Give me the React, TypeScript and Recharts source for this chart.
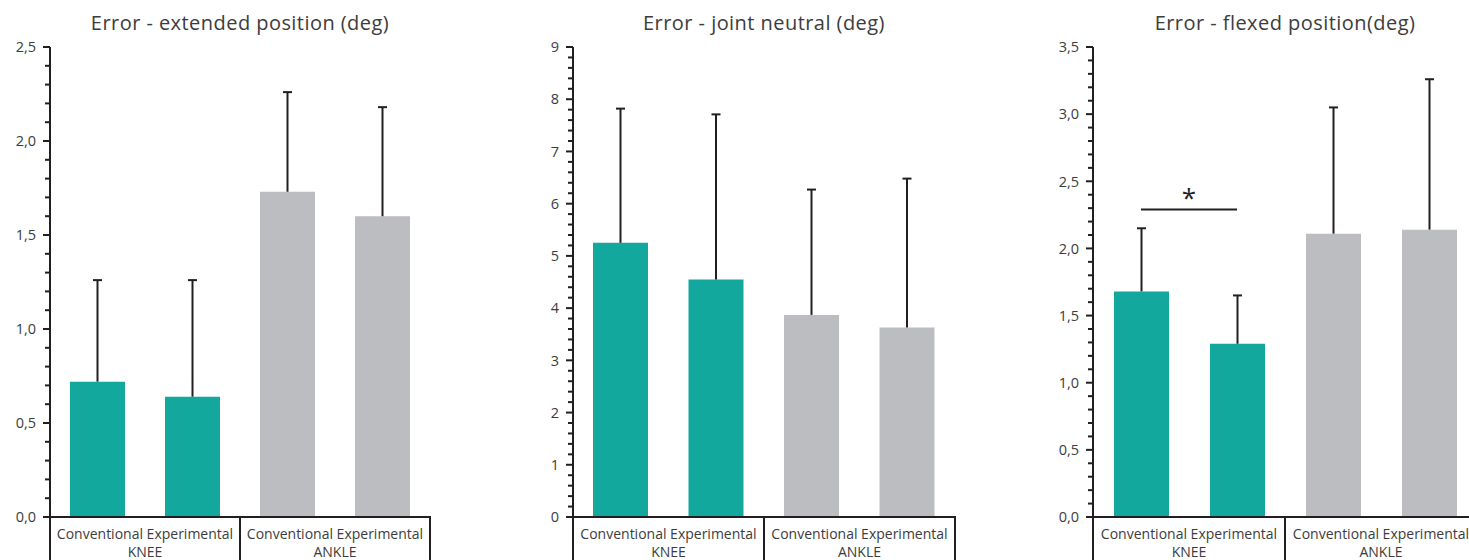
import { BarChart, Bar, XAxis, YAxis, Cell, ReferenceLine, Label } from "recharts"

const TEAL = "#12a89d"
const GREY = "#bcbdc1"
const INK = "#231f20"
const TEXT = "#3c3c3c"
const FONT = "'Open Sans', sans-serif"

const categories = ["Conventional", "Experimental", "Conventional", "Experimental"]
const joints = ["KNEE", "KNEE", "ANKLE", "ANKLE"]

// mean + one-sided SD
const extendedMean = [0.72, 0.64, 1.73, 1.6]
const extendedSd = [0.54, 0.62, 0.53, 0.58]
const neutralMean = [5.25, 4.55, 3.87, 3.63]
const neutralSd = [2.57, 3.16, 2.4, 2.85]
const flexedMean = [1.68, 1.29, 2.11, 2.14]
const flexedSd = [0.47, 0.36, 0.94, 1.12]

const extendedTicks = [
  0, 0.1, 0.2, 0.3, 0.4, 0.5, 0.6, 0.7, 0.8, 0.9, 1, 1.1, 1.2, 1.3, 1.4, 1.5, 1.6, 1.7, 1.8, 1.9, 2, 2.1, 2.2,
  2.3, 2.4, 2.5,
]
const extendedLabels = [0, 0.5, 1, 1.5, 2, 2.5]
const neutralTicks = [
  0, 0.2, 0.4, 0.6, 0.8, 1, 1.2, 1.4, 1.6, 1.8, 2, 2.2, 2.4, 2.6, 2.8, 3, 3.2, 3.4, 3.6, 3.8, 4, 4.2, 4.4, 4.6,
  4.8, 5, 5.2, 5.4, 5.6, 5.8, 6, 6.2, 6.4, 6.6, 6.8, 7, 7.2, 7.4, 7.6, 7.8, 8, 8.2, 8.4, 8.6, 8.8, 9,
]
const neutralLabels = [0, 1, 2, 3, 4, 5, 6, 7, 8, 9]
const flexedTicks = [
  0, 0.1, 0.2, 0.3, 0.4, 0.5, 0.6, 0.7, 0.8, 0.9, 1, 1.1, 1.2, 1.3, 1.4, 1.5, 1.6, 1.7, 1.8, 1.9, 2, 2.1, 2.2,
  2.3, 2.4, 2.5, 2.6, 2.7, 2.8, 2.9, 3, 3.1, 3.2, 3.3, 3.4, 3.5,
]
const flexedLabels = [0, 0.5, 1, 1.5, 2, 2.5, 3, 3.5]

const Y_W = 50
const TOP = 47
const X_H = 43

const commaFmt = (v: number) => v.toFixed(1).replace(".", ",")
const intFmt = (v: number) => String(v)

function makeRows(means: number[], sds: number[]) {
  return categories.map((c, i) => ({
    id: `${joints[i]} ${c}`,
    joint: joints[i],
    mean: means[i],
    sd: sds[i],
  }))
}

function YTick(props: any) {
  const { x, y, payload, labels, fmt } = props
  const major = labels.includes(payload.value)
  return (
    <g>
      <line x1={x - (major ? 7 : 5)} x2={x} y1={y} y2={y} stroke={INK} strokeWidth={2} />
      {major && (
        <text x={x - 14} y={y} dy="0.36em" textAnchor="end" fontSize={14.5} fill={TEXT} fontFamily={FONT}>
          {fmt(payload.value)}
        </text>
      )}
    </g>
  )
}

function XTick(props: any) {
  const { x, y, payload, index, half } = props
  const h = payload && payload.offset ? payload.offset : half
  const first = index % 2 === 0
  return (
    <g>
      {first && (
        <text x={x + h} y={y + 22} textAnchor="middle" fontSize={14} fill={TEXT} fontFamily={FONT}>
          {`${categories[index]} ${categories[index + 1]}`}
        </text>
      )}
      {first && (
        <text x={x + h} y={y + 40} textAnchor="middle" fontSize={14} fill={TEXT} fontFamily={FONT}>
          {joints[index]}
        </text>
      )}
      {first && <line x1={x - h} x2={x - h} y1={y - 1} y2={y + 50} stroke={INK} strokeWidth={2} />}
      {index === categories.length - 1 && (
        <line x1={x + h} x2={x + h} y1={y - 1} y2={y + 50} stroke={INK} strokeWidth={2} />
      )}
    </g>
  )
}

function ErrorShape(props: any) {
  const { x, y, width, height } = props
  const cx = x + width / 2
  return (
    <g>
      <line x1={cx} x2={cx} y1={y + height} y2={y} stroke={INK} strokeWidth={2} />
      <line x1={cx - 4.5} x2={cx + 4.5} y1={y} y2={y} stroke={INK} strokeWidth={2} />
    </g>
  )
}

function Panel({
  left,
  plotW,
  title,
  means,
  sds,
  max,
  ticks,
  labels,
  fmt,
  children,
}: {
  left: number
  plotW: number
  title: string
  means: number[]
  sds: number[]
  max: number
  ticks: number[]
  labels: number[]
  fmt: (v: number) => string
  children?: any
}) {
  const rows = makeRows(means, sds)
  const width = Y_W + plotW + 10
  return (
    <div style={{ position: "absolute", left, top: 0, width, height: 560 }}>
      <div
        style={{
          position: "absolute",
          left: Y_W,
          width: plotW,
          top: 10,
          lineHeight: "26px",
          textAlign: "center",
          fontSize: 20,
          letterSpacing: 0.45,
          color: TEXT,
          fontFamily: FONT,
          whiteSpace: "nowrap",
        }}
      >
        {title}
      </div>
      <BarChart width={width} height={560} data={rows} margin={{ top: TOP, right: 10, bottom: 0, left: 0 }}>
        <XAxis
          dataKey="id"
          height={X_H}
          interval={0}
          tickLine={false}
          tickSize={0}
          tickMargin={0}
          axisLine={{ stroke: INK, strokeWidth: 2 }}
          tick={<XTick half={plotW / 8} />}
        />
        <YAxis
          width={Y_W}
          domain={[0, max]}
          ticks={ticks}
          interval={0}
          tickLine={false}
          tickSize={0}
          tickMargin={0}
          axisLine={{ stroke: INK, strokeWidth: 2 }}
          tick={<YTick labels={labels} fmt={fmt} />}
        />
        <Bar dataKey="mean" stackId="s" barSize={55} isAnimationActive={false}>
          {rows.map((r) => (
            <Cell key={r.id} fill={r.joint === "KNEE" ? TEAL : GREY} />
          ))}
        </Bar>
        <Bar dataKey="sd" stackId="s" barSize={55} isAnimationActive={false} shape={<ErrorShape />} />
        {children}
      </BarChart>
    </div>
  )
}

export default function App() {
  return (
    <div
      style={{
        position: "absolute",
        left: 0,
        top: 0,
        width: 1469,
        height: 560,
        overflow: "hidden",
        background: "#fff",
      }}
    >
      <Panel
        left={0}
        plotW={380}
        title="Error - extended position (deg)"
        means={extendedMean}
        sds={extendedSd}
        max={2.5}
        ticks={extendedTicks}
        labels={extendedLabels}
        fmt={commaFmt}
      />
      <Panel
        left={523}
        plotW={382}
        title="Error - joint neutral (deg)"
        means={neutralMean}
        sds={neutralSd}
        max={9}
        ticks={neutralTicks}
        labels={neutralLabels}
        fmt={intFmt}
      />
      <Panel
        left={1043}
        plotW={384}
        title="Error - flexed position(deg)"
        means={flexedMean}
        sds={flexedSd}
        max={3.5}
        ticks={flexedTicks}
        labels={flexedLabels}
        fmt={commaFmt}
      >
        <ReferenceLine
          segment={[
            { x: "KNEE Conventional", y: 2.29 },
            { x: "KNEE Experimental", y: 2.29 },
          ]}
          stroke={INK}
          strokeWidth={2}
          ifOverflow="visible"
        >
          <Label value="*" position="top" offset={2} fontSize={26} fill={INK} fontFamily={FONT} />
        </ReferenceLine>
      </Panel>
    </div>
  )
}
